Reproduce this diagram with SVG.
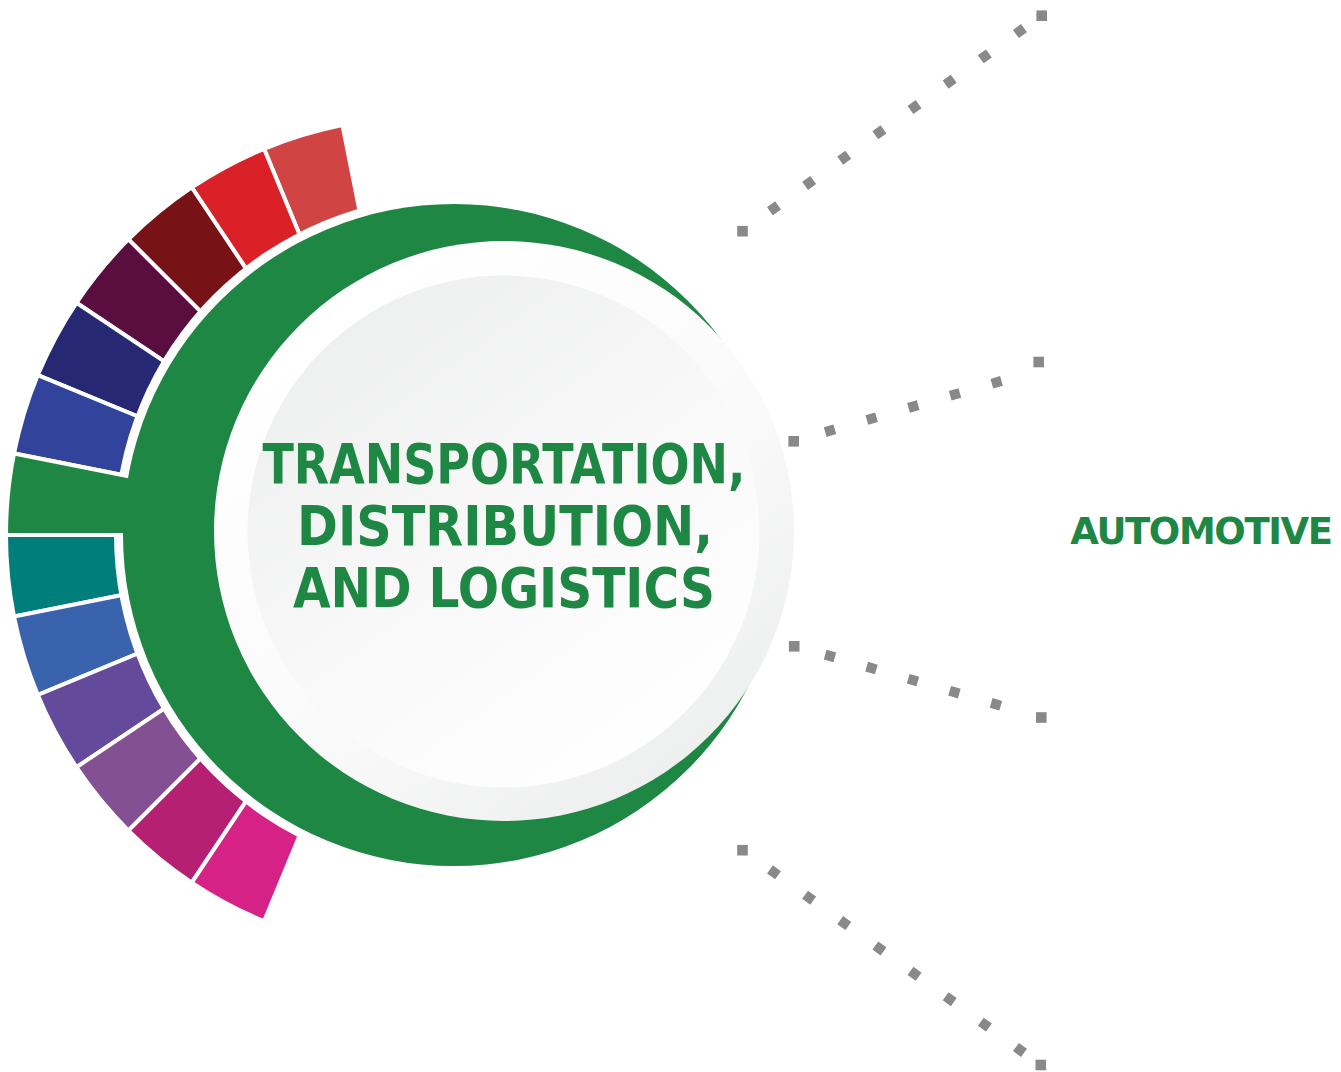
<svg xmlns="http://www.w3.org/2000/svg" width="1341" height="1072" viewBox="0 0 1341 1072">
  <defs>
    <linearGradient id="ringGrad" x1="0.2" y1="0.1" x2="0.85" y2="0.95">
      <stop offset="0" stop-color="#FFFFFF"/>
      <stop offset="0.55" stop-color="#FAFAFA"/>
      <stop offset="1" stop-color="#ECEDED"/>
    </linearGradient>
    <linearGradient id="discGrad" x1="0.15" y1="0.05" x2="0.8" y2="0.95">
      <stop offset="0" stop-color="#EDEEEE"/>
      <stop offset="0.5" stop-color="#F8F8F8"/>
      <stop offset="1" stop-color="#FFFFFF"/>
    </linearGradient>
    <style>
      .seg { stroke: #FFFFFF; stroke-width: 4; stroke-linejoin: miter; }
      .green { fill: #1F8744; }
      .title { font-family: "DejaVu Sans", "Liberation Sans", sans-serif; font-weight: bold; fill: #1F8744; text-anchor: middle; }
      .dots { fill: none; stroke: #898989; stroke-width: 10; stroke-linecap: butt; }
      .endsq { fill: #898989; }
    </style>
  </defs>

  <!-- coloured segments -->
  <g id="segments">
    <path id="seg-coral" class="seg" fill="#D14444" d="M342.45 125.03 A418 418 0 0 0 264.04 148.82 L313.02 267.07 A290 290 0 0 1 367.42 250.57 Z"/>
    <path id="seg-red" class="seg" fill="#DA2128" d="M264.04 148.82 A418 418 0 0 0 191.77 187.45 L262.88 293.87 A290 290 0 0 1 313.02 267.07 Z"/>
    <path id="seg-darkred" class="seg" fill="#771316" d="M191.77 187.45 A418 418 0 0 0 128.43 239.43 L218.94 329.94 A290 290 0 0 1 262.88 293.87 Z"/>
    <path id="seg-plum" class="seg" fill="#5A0E3F" d="M128.43 239.43 A418 418 0 0 0 76.45 302.77 L182.87 373.88 A290 290 0 0 1 218.94 329.94 Z"/>
    <path id="seg-navy" class="seg" fill="#272873" d="M76.45 302.77 A418 418 0 0 0 37.82 375.04 L156.07 424.02 A290 290 0 0 1 182.87 373.88 Z"/>
    <path id="seg-blue" class="seg" fill="#31439B" d="M37.82 375.04 A418 418 0 0 0 14.03 453.45 L139.57 478.42 A290 290 0 0 1 156.07 424.02 Z"/>
    <path id="seg-teal" class="seg" fill="#007E7C" d="M6 535 A418 418 0 0 0 14.03 616.55 L139.57 591.58 A290 290 0 0 1 134 535 Z"/>
    <path id="seg-blue2" class="seg" fill="#3A63AE" d="M14.03 616.55 A418 418 0 0 0 37.82 694.96 L156.07 645.98 A290 290 0 0 1 139.57 591.58 Z"/>
    <path id="seg-purple" class="seg" fill="#644A9B" d="M37.82 694.96 A418 418 0 0 0 76.45 767.23 L182.87 696.12 A290 290 0 0 1 156.07 645.98 Z"/>
    <path id="seg-mauve" class="seg" fill="#835093" d="M76.45 767.23 A418 418 0 0 0 128.43 830.57 L218.94 740.06 A290 290 0 0 1 182.87 696.12 Z"/>
    <path id="seg-magenta" class="seg" fill="#B52073" d="M128.43 830.57 A418 418 0 0 0 191.77 882.55 L262.88 776.13 A290 290 0 0 1 218.94 740.06 Z"/>
    <path id="seg-pink" class="seg" fill="#D62187" d="M191.77 882.55 A418 418 0 0 0 264.04 921.18 L313.02 802.93 A290 290 0 0 1 262.88 776.13 Z"/>
    <!-- white gap between segments and the green ring -->
    <circle cx="454" cy="535" r="340" fill="#FFFFFF"/>
  </g>

  <!-- central hub -->
  <g id="hub">
    <path id="seg-green" class="seg green" d="M14.03 453.45 A418 418 0 0 0 6 535 L174 535 L178.8 486.2 Z"/>
    <circle class="green" cx="454" cy="535" r="331"/>
    <circle cx="504" cy="531" r="290" fill="url(#ringGrad)"/>
    <circle cx="503.5" cy="531.5" r="256" fill="url(#discGrad)"/>
    <text class="title" x="504" y="483" font-size="56" textLength="483" lengthAdjust="spacingAndGlyphs">TRANSPORTATION,</text>
    <text class="title" x="505" y="545" font-size="56" textLength="416" lengthAdjust="spacingAndGlyphs">DISTRIBUTION,</text>
    <text class="title" x="504" y="607" font-size="56" textLength="422" lengthAdjust="spacingAndGlyphs">AND LOGISTICS</text>
  </g>

  <!-- label -->
  <g id="automotive">
    <text class="title" x="1201" y="544" font-size="37" letter-spacing="-1.4">AUTOMOTIVE</text>
  </g>

  <!-- dotted connectors -->
  <g id="connectors">
    <g id="conn-1">
      <path class="dots" d="M769.94 211.22 L1024.06 28.08" stroke-dasharray="10 33.31"/>
      <rect class="endsq" x="737.2" y="225.9" width="10.6" height="10.6"/>
      <rect class="endsq" x="1036.4" y="10.4" width="10.6" height="10.6"/>
    </g>
    <g id="conn-2">
      <path class="dots" d="M825.2 432.09 L1001.5 380.91" stroke-dasharray="10 33.39"/>
      <rect class="endsq" x="788.4" y="436" width="10.6" height="10.6"/>
      <rect class="endsq" x="1033.4" y="356.7" width="10.6" height="10.6"/>
    </g>
    <g id="conn-3">
      <path class="dots" d="M825.2 654.6 L1000.8 705.7" stroke-dasharray="10 33.21"/>
      <rect class="endsq" x="788.9" y="641" width="10.6" height="10.6"/>
      <rect class="endsq" x="1036" y="712.2" width="10.6" height="10.6"/>
    </g>
    <g id="conn-4">
      <path class="dots" d="M769.95 869.37 L1024.05 1052.93" stroke-dasharray="10 33.35"/>
      <rect class="endsq" x="737.2" y="844.9" width="10.6" height="10.6"/>
      <rect class="endsq" x="1035.5" y="1059.7" width="10.6" height="10.6"/>
    </g>
  </g>
</svg>
